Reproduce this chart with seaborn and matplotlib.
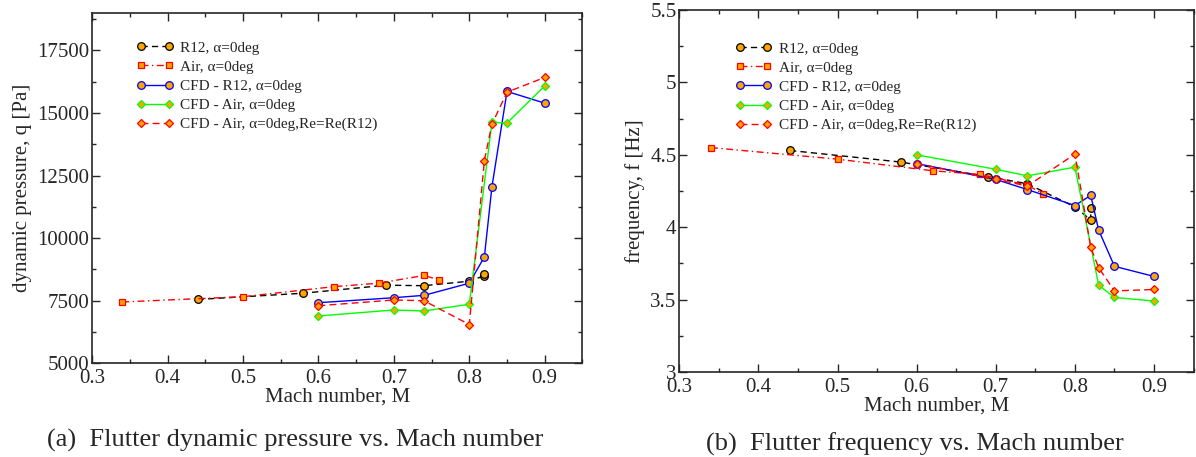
#!/usr/bin/env python3
"""
Flutter boundary: dynamic pressure and frequency vs. Mach number
(experiment R12 / Air and CFD runs), two panels side by side.
"""

import numpy as np
import pandas as pd
import matplotlib
matplotlib.use('Agg')
import matplotlib.pyplot as plt
from matplotlib.ticker import MultipleLocator, FuncFormatter
import seaborn as sns

# ============================================================
# Data
# ============================================================

# Experiment, R12, alpha = 0 deg
MACH_R12 = [0.44, 0.58, 0.69, 0.74, 0.80, 0.82, 0.82]
Q_R12 = [7550, 7800, 8120, 8100, 8280, 8500, 8560]
F_R12 = [4.53, 4.45, 4.35, 4.30, 4.14, 4.05, 4.13]

# Experiment, Air, alpha = 0 deg
MACH_AIR = [0.34, 0.50, 0.62, 0.68, 0.74, 0.76]
Q_AIR = [7450, 7660, 8060, 8200, 8510, 8330]
F_AIR = [4.55, 4.47, 4.39, 4.365, 4.29, 4.23]

# CFD, R12
MACH_CFD_R12 = [0.60, 0.70, 0.74, 0.80, 0.82, 0.83, 0.85, 0.90]
Q_CFD_R12 = [7420, 7620, 7715, 8200, 9250, 12050, 15860, 15390]
F_CFD_R12 = [4.44, 4.33, 4.26, 4.15, 4.22, 3.98, 3.73, 3.66]

# CFD, Air
MACH_CFD_AIR = [0.60, 0.70, 0.74, 0.80, 0.83, 0.85, 0.90]
Q_CFD_AIR = [6890, 7130, 7090, 7360, 14620, 14600, 16080]
F_CFD_AIR = [4.50, 4.40, 4.355, 4.415, 3.60, 3.515, 3.49]

# CFD, Air at R12 Reynolds number
MACH_CFD_RE = [0.60, 0.70, 0.74, 0.80, 0.82, 0.83, 0.85, 0.90]
Q_CFD_RE = [7300, 7530, 7500, 6550, 13100, 14550, 15830, 16420]
F_CFD_RE = [4.44, 4.33, 4.285, 4.505, 3.86, 3.72, 3.56, 3.57]

LABELS = [
    'R12, α=0deg',
    'Air, α=0deg',
    'CFD - R12, α=0deg',
    'CFD - Air, α=0deg',
    'CFD - Air, α=0deg,Re=Re(R12)',
]

# ============================================================
# Style
# ============================================================

ORANGE = '#FFA500'
STYLES = [
    dict(color='black', linestyle=(0, (4.5, 3)), marker='o', markersize=5.5,
         markeredgecolor='black'),
    dict(color='#FF0000', linestyle=(0, (5, 2.5, 1, 2.5)), marker='s', markersize=5,
         markeredgecolor='#FF0000'),
    dict(color='#0000FF', linestyle='-', marker='o', markersize=5.5,
         markeredgecolor='#0000FF'),
    dict(color='#00FF00', linestyle='-', marker='D', markersize=4,
         markeredgecolor='#00FF00'),
    dict(color='#FF0000', linestyle=(0, (5, 3)), marker='D', markersize=4,
         markeredgecolor='#FF0000'),
]

sns.set_theme(style='ticks')
plt.rcParams['font.family'] = ['Liberation Serif', 'DejaVu Serif']
plt.rcParams['axes.linewidth'] = 1.2


def style_axis(ax, ylim, y_major, y_minor):
    ax.set_xlim(0.3, 0.95)
    ax.set_ylim(*ylim)
    ax.xaxis.set_major_locator(MultipleLocator(0.1))
    ax.xaxis.set_minor_locator(MultipleLocator(0.05))
    ax.yaxis.set_major_locator(MultipleLocator(y_major))
    ax.yaxis.set_minor_locator(MultipleLocator(y_minor))
    ax.xaxis.set_major_formatter(FuncFormatter(lambda v, p: f'{v:g}'))
    ax.yaxis.set_major_formatter(FuncFormatter(lambda v, p: f'{v:g}'))
    ax.tick_params(which='both', direction='in', top=True, right=True,
                   labelsize=15, width=1.0, pad=2)
    ax.tick_params(axis='x', which='major', pad=4)
    ax.tick_params(which='major', length=5.5)
    ax.tick_params(which='minor', length=3)
    for s in ax.spines.values():
        s.set_visible(True)
        s.set_linewidth(1.2)
    ax.set_xlabel('Mach number, M', fontsize=15, labelpad=0)


def draw_panel(ax, series):
    for (mach, vals), lab, st in zip(series, LABELS, STYLES):
        df = pd.DataFrame({'M': mach, 'v': vals})
        sns.lineplot(data=df, x='M', y='v', ax=ax, sort=False, estimator=None,
                     label=lab, linewidth=1.0, markerfacecolor=ORANGE,
                     markeredgewidth=0.9, **st)


# ============================================================
# Figure
# ============================================================

def main():
    fig = plt.figure(figsize=(11.96, 4.57), dpi=100)
    ax1 = fig.add_axes([0.077, 0.205, 0.41, 0.767])
    ax2 = fig.add_axes([0.568, 0.186, 0.43, 0.792])

    draw_panel(ax1, [(MACH_R12, Q_R12), (MACH_AIR, Q_AIR), (MACH_CFD_R12, Q_CFD_R12),
                     (MACH_CFD_AIR, Q_CFD_AIR), (MACH_CFD_RE, Q_CFD_RE)])
    style_axis(ax1, (5000, 19000), 2500, 1250)
    ax1.set_ylabel('dynamic pressure, q [Pa]', fontsize=15, labelpad=4)

    draw_panel(ax2, [(MACH_R12, F_R12), (MACH_AIR, F_AIR), (MACH_CFD_R12, F_CFD_R12),
                     (MACH_CFD_AIR, F_CFD_AIR), (MACH_CFD_RE, F_CFD_RE)])
    style_axis(ax2, (3.0, 5.5), 0.5, 0.25)
    ax2.set_ylabel('frequency, f [Hz]', fontsize=15, labelpad=3.5)

    for ax, anchor in [(ax1, (0.085, 0.928)), (ax2, (0.103, 0.92))]:
        ax.legend(loc='upper left', bbox_to_anchor=anchor, frameon=False,
                  fontsize=11, numpoints=2, handlelength=2.4, handletextpad=0.45,
                  labelspacing=0.35, borderaxespad=0, borderpad=0.2)

    fig.text(0.247, 0.036, '(a)  Flutter dynamic pressure vs. Mach number',
             ha='center', va='center', fontsize=19)
    fig.text(0.765, 0.028, '(b)  Flutter frequency vs. Mach number',
             ha='center', va='center', fontsize=19)

    fig.savefig('out.png', dpi=100)
    plt.close(fig)


if __name__ == '__main__':
    main()
